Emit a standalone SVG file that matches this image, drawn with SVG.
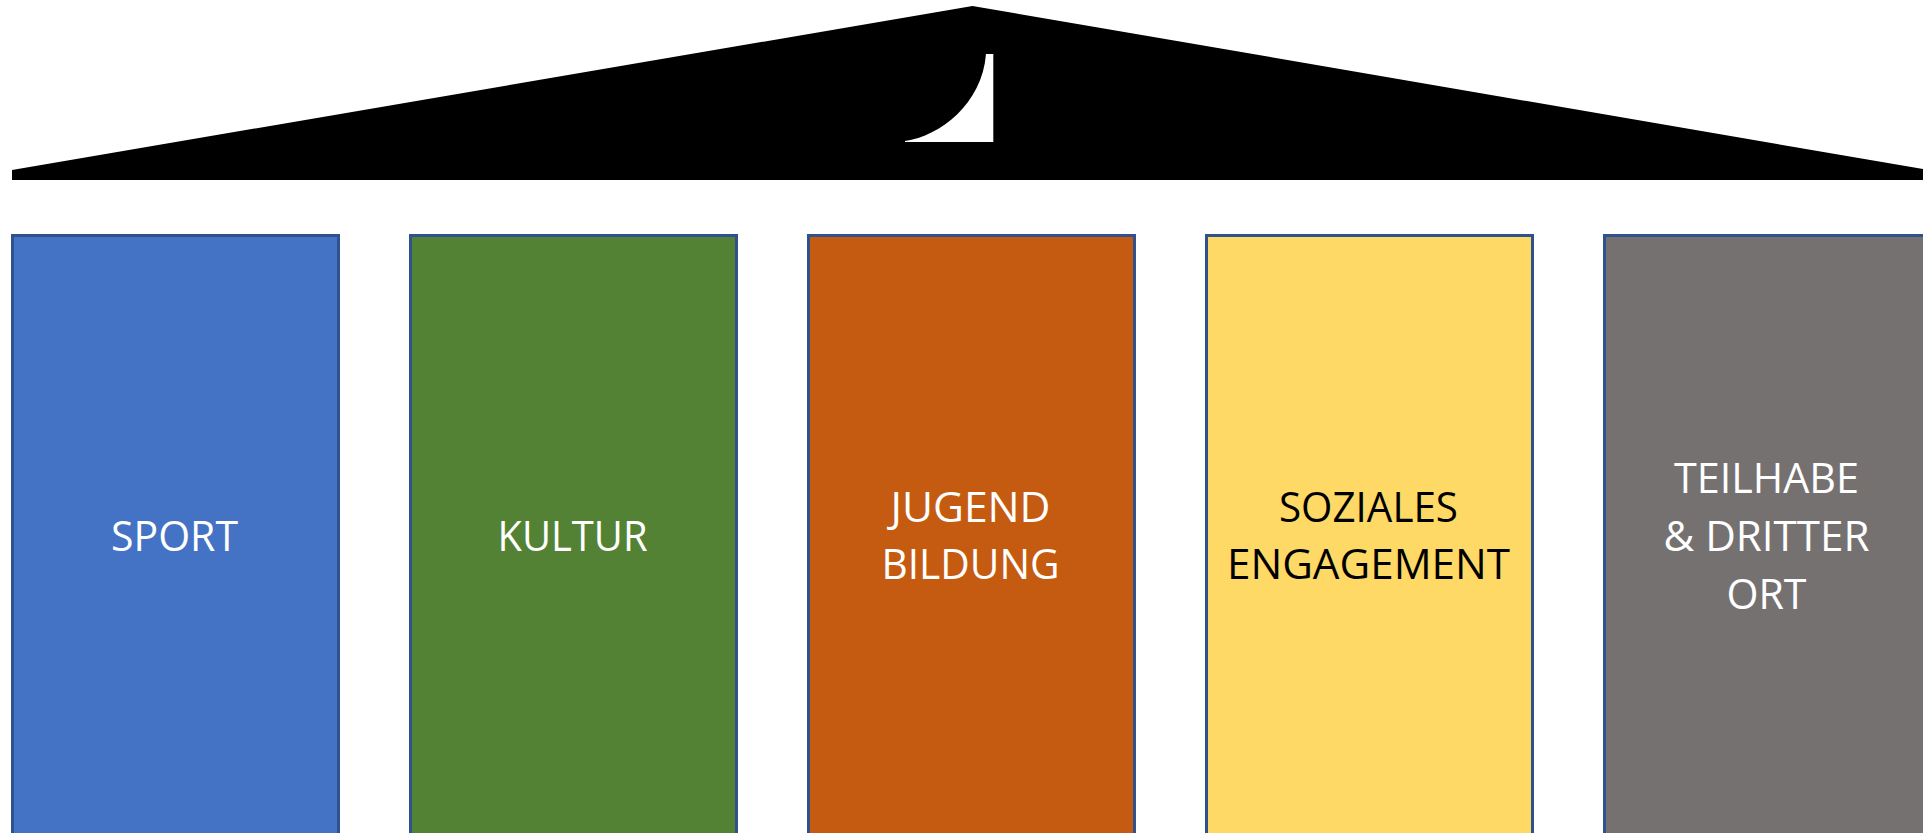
<svg xmlns="http://www.w3.org/2000/svg" width="1923" height="833" viewBox="0 0 1923 833">
<style>
.p{stroke:#2f528f;stroke-width:3}
.t{font-family:"Open Sans","Noto Sans",sans-serif;font-size:42.5px;text-anchor:middle;fill:#fff}
.d{fill:#000}
</style>
<rect width="1923" height="833" fill="#fff"/>
<g id="roof"><polygon points="12,170 972.500,6 1923,169 1923,180 12,180" fill="#000"/>
<path d="M905,141 C940,136 982,104 986,54 L993.300,54 L993.300,142 L905,142 Z" fill="#fff"/></g>
<g id="sport"><rect class="p" x="12.500" y="235.500" width="326" height="610" fill="#4472c4"/><text class="t" x="174.500" y="551" textLength="127" lengthAdjust="spacingAndGlyphs">SPORT</text></g>
<g id="kultur"><rect class="p" x="410.500" y="235.500" width="326" height="610" fill="#548235"/><text class="t" x="572.500" y="551" textLength="150" lengthAdjust="spacingAndGlyphs">KULTUR</text></g>
<g id="jugend"><rect class="p" x="808.500" y="235.500" width="326" height="610" fill="#c55a11"/><text class="t" x="970.500" y="522" textLength="160" lengthAdjust="spacingAndGlyphs">JUGEND</text><text class="t" x="970.500" y="579" textLength="178" lengthAdjust="spacingAndGlyphs">BILDUNG</text></g>
<g id="soziales"><rect class="p" x="1206.500" y="235.500" width="326" height="610" fill="#ffd966"/><text class="t d" x="1368.500" y="522" textLength="179" lengthAdjust="spacingAndGlyphs">SOZIALES</text><text class="t d" x="1368.500" y="579" textLength="283" lengthAdjust="spacingAndGlyphs">ENGAGEMENT</text></g>
<g id="teilhabe"><rect class="p" x="1604.500" y="235.500" width="326" height="610" fill="#767171"/><text class="t" x="1766.500" y="493" textLength="185" lengthAdjust="spacingAndGlyphs">TEILHABE</text><text class="t" x="1766.500" y="551" textLength="206" lengthAdjust="spacingAndGlyphs">&amp; DRITTER</text><text class="t" x="1766.500" y="609" textLength="80" lengthAdjust="spacingAndGlyphs">ORT</text></g>
<g id="connectors"/>
</svg>
